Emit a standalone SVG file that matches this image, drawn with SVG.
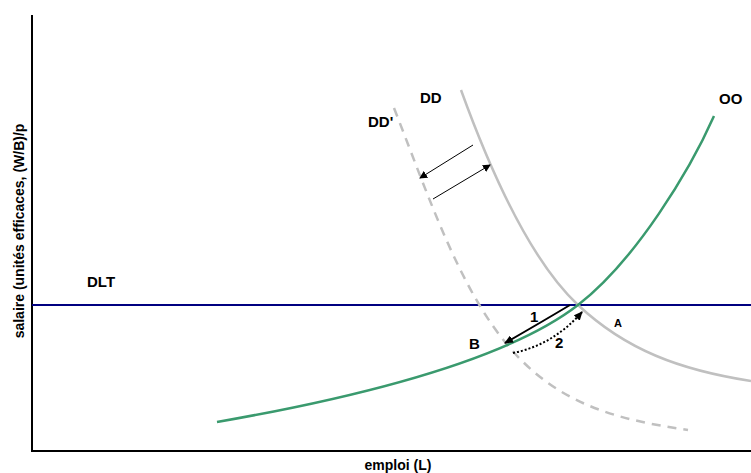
<svg xmlns="http://www.w3.org/2000/svg" width="751" height="473" viewBox="0 0 751 473">
<style>
.lbl{font-family:"Liberation Sans",Arial,sans-serif;font-weight:bold;fill:#000}
.curve{fill:none;stroke-width:2.5}
</style>
<defs>
<marker id="ah" markerWidth="8" markerHeight="8" refX="7" refY="4" orient="auto" markerUnits="userSpaceOnUse"><path d="M0,0 L8,4 L0,8 z" fill="#000"/></marker>
<marker id="ahs" markerWidth="9" markerHeight="8" refX="8" refY="4" orient="auto" markerUnits="userSpaceOnUse"><path d="M0,0 L9,4 L0,8 z" fill="#000"/></marker>
</defs>
<rect width="751" height="473" fill="#fff"/>
<g id="axes">
<line x1="32" y1="15" x2="32" y2="452" stroke="#000" stroke-width="2"/>
<line x1="31" y1="451" x2="751" y2="451" stroke="#000" stroke-width="2"/>
<text class="lbl" x="398" y="470" font-size="14" text-anchor="middle">emploi (L)</text>
<text class="lbl" font-size="14" text-anchor="middle" transform="translate(24,231) rotate(-90)">salaire (unités efficaces, (W/B)/p</text>
</g>
<g id="DLT">
<line x1="32" y1="305" x2="751" y2="305" stroke="#000080" stroke-width="2"/>
<text class="lbl" x="87" y="287" font-size="15">DLT</text>
</g>
<g id="DD">
<path class="curve" d="M461,90 C490,170 530,260 578,305 S680,370 751,381" stroke="#c0c0c0"/>
<text class="lbl" x="420" y="103" font-size="15">DD</text>
</g>
<g id="DDprime">
<path class="curve" d="M394,108 C430,200 460,290 510,348 S620,420 688,430" stroke="#c0c0c0" stroke-dasharray="9,7"/>
<text class="lbl" x="368" y="127" font-size="15">DD'</text>
</g>
<g id="OO">
<path class="curve" d="M217,422 C400,390 520,350 578,305 S690,170 714,116" stroke="#3a9a6e"/>
<text class="lbl" x="719" y="104" font-size="15">OO</text>
</g>
<g id="A"><text class="lbl" x="614" y="327" font-size="11">A</text></g>
<g id="B"><text class="lbl" x="469" y="349" font-size="15">B</text></g>
<g id="connectors">
<line x1="473" y1="145" x2="420" y2="178" stroke="#000" stroke-width="1" marker-end="url(#ah)"/>
<line x1="433" y1="199" x2="490" y2="165" stroke="#000" stroke-width="1" marker-end="url(#ah)"/>
<path d="M570,305 Q540,323 505,343" fill="none" stroke="#000" stroke-width="2" marker-end="url(#ahs)"/>
<path d="M513,353 Q553,345 582,312" fill="none" stroke="#000" stroke-width="2" stroke-dasharray="2,2" marker-end="url(#ahs)"/>
<text class="lbl" x="530" y="322" font-size="15">1</text>
<text class="lbl" x="555" y="348" font-size="15">2</text>
</g>
</svg>
